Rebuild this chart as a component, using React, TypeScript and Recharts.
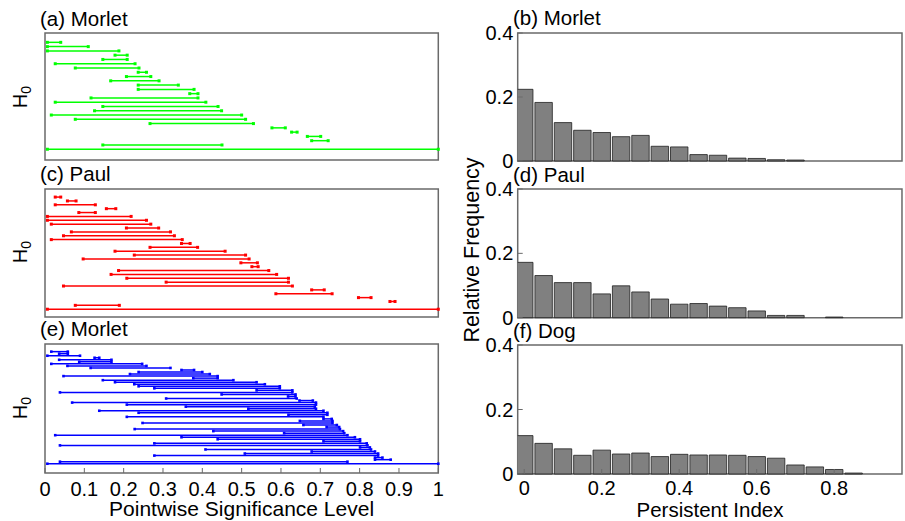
import React from 'react';
import { BarChart, Bar, XAxis, YAxis, ReferenceArea } from 'recharts';

const FONT = '"Liberation Sans", Arial, Helvetica, sans-serif';

// (a) Morlet barcode, H0 intervals [birth, death], top row first
const BIRTH_A = [0.006, 0.006, 0.006, 0.178, 0.147, 0.026, 0.077, 0.237, 0.207, 0.167, 0.237, 0.237, 0.368, 0.117, 0.026, 0.147, 0.126, 0.016, 0.077, 0.267, 0.577, 0.627, 0.667, 0.678, 0.147, 0.006];
const DEATH_A = [0.040, 0.110, 0.188, 0.209, 0.209, 0.229, 0.239, 0.258, 0.269, 0.290, 0.339, 0.379, 0.389, 0.389, 0.409, 0.440, 0.449, 0.500, 0.510, 0.530, 0.611, 0.641, 0.701, 0.720, 0.450, 1.0];

// (c) Paul barcode
const BIRTH_C = [0.026, 0.057, 0.026, 0.156, 0.086, 0.006, 0.006, 0.016, 0.207, 0.067, 0.047, 0.016, 0.347, 0.267, 0.178, 0.227, 0.097, 0.498, 0.526, 0.187, 0.168, 0.208, 0.308, 0.047, 0.678, 0.587, 0.797, 0.877, 0.077, 0.006];
const DEATH_C = [0.040, 0.079, 0.128, 0.180, 0.128, 0.219, 0.258, 0.269, 0.289, 0.319, 0.329, 0.349, 0.369, 0.388, 0.458, 0.510, 0.519, 0.540, 0.542, 0.569, 0.589, 0.619, 0.619, 0.629, 0.710, 0.730, 0.829, 0.890, 0.189, 1.0];

// (e) Morlet barcode
const BIRTH_E = [0.016, 0.036, 0.006, 0.126, 0.036, 0.087, 0.016, 0.057, 0.116, 0.347, 0.238, 0.216, 0.047, 0.377, 0.147, 0.178, 0.227, 0.238, 0.278, 0.538, 0.038, 0.449, 0.618, 0.308, 0.647, 0.069, 0.208, 0.358, 0.517, 0.138, 0.238, 0.619, 0.208, 0.708, 0.648, 0.248, 0.657, 0.716, 0.228, 0.428, 0.608, 0.026, 0.347, 0.439, 0.708, 0.278, 0.038, 0.801, 0.408, 0.678, 0.508, 0.278, 0.839, 0.839, 0.038, 0.006];
const DEATH_E = [0.058, 0.058, 0.089, 0.138, 0.169, 0.169, 0.247, 0.258, 0.319, 0.379, 0.400, 0.419, 0.439, 0.439, 0.479, 0.538, 0.559, 0.597, 0.597, 0.629, 0.629, 0.637, 0.637, 0.640, 0.681, 0.689, 0.689, 0.686, 0.689, 0.708, 0.718, 0.718, 0.708, 0.729, 0.731, 0.731, 0.742, 0.748, 0.750, 0.758, 0.761, 0.769, 0.788, 0.801, 0.801, 0.818, 0.820, 0.826, 0.829, 0.839, 0.847, 0.847, 0.858, 0.879, 0.769, 1.0];

// row axis limits of each barcode panel
const ROWS_A: [number, number] = [-1.1, 28.6];
const ROWS_C: [number, number] = [-1.2, 31.9];
const ROWS_E: [number, number] = [-2.8, 60.5];

const SIG_TICKS = [0, 0.1, 0.2, 0.3, 0.4, 0.5, 0.6, 0.7, 0.8, 0.9, 1];

// histograms of the persistent index (bin width 0.05)
const BIN_CENTERS = [0, 0.05, 0.1, 0.15, 0.2, 0.25, 0.3, 0.35, 0.4, 0.45, 0.5, 0.55, 0.6, 0.65, 0.7, 0.75, 0.8, 0.85];
const FREQ_B = [0.224, 0.183, 0.120, 0.096, 0.089, 0.076, 0.080, 0.046, 0.044, 0.020, 0.018, 0.009, 0.008, 0.004, 0.003, 0, 0, 0];
const FREQ_D = [0.172, 0.131, 0.109, 0.109, 0.074, 0.099, 0.080, 0.058, 0.042, 0.044, 0.036, 0.031, 0.021, 0.007, 0.007, 0, 0.002, 0];
const FREQ_F = [0.119, 0.095, 0.078, 0.058, 0.074, 0.062, 0.065, 0.054, 0.061, 0.059, 0.059, 0.058, 0.054, 0.049, 0.028, 0.022, 0.014, 0.003];

const HIST_X: [number, number] = [-0.0168, 0.975];
const PI_TICKS = [0, 0.2, 0.4, 0.6, 0.8];
const FREQ_TICKS = [0, 0.2, 0.4];

const AXIS_COLOR = '#6a6a6a';
const PAD = 14; // room above / below the plot for tick labels
const tickStyle = { fontSize: 20, fill: '#000', fontFamily: FONT };

type BarcodeProps = {
  birth: number[];
  death: number[];
  color: string;
  rows: [number, number];
  top: number;
  plotH: number;
  labels?: boolean;
  dot: number;
  lw: number;
};

const Barcode = ({ birth, death, color, rows, top, plotH, labels, dot, lw }: BarcodeProps) => {
  const data = birth.map((b, i) => ({ row: i + 1, range: [b, death[i]] }));
  const axisH = labels ? 30 : 0;

  // a bar of the barcode: a line with a small marker at each end
  const shape = (p: any) => {
    const { x, y, width, height } = p;
    if (x == null || width == null) return <g />;
    const cy = y + height / 2;
    return (
      <g>
        <line x1={x} x2={x + width} y1={cy} y2={cy} stroke={color} strokeWidth={lw} />
        <rect x={x - dot / 2} y={cy - dot / 2} width={dot} height={dot} fill={color} />
        <rect x={x + width - dot / 2} y={cy - dot / 2} width={dot} height={dot} fill={color} />
      </g>
    );
  };

  return (
    <div style={{ position: 'absolute', left: 0, top: top - PAD }}>
      <BarChart
        layout="vertical"
        width={460}
        height={plotH + 2 * PAD + axisH}
        data={data}
        margin={{ top: PAD, right: 21.7, bottom: PAD, left: 45 }}
        barSize={3}
      >
        <XAxis
          xAxisId="b"
          type="number"
          domain={[0, 1]}
          ticks={SIG_TICKS}
          interval={0}
          height={axisH}
          axisLine={false}
          tickSize={-5}
          tickMargin={13.5}
          tickLine={{ stroke: AXIS_COLOR }}
          tick={labels ? tickStyle : false}
        />
        <XAxis
          xAxisId="t"
          orientation="top"
          type="number"
          domain={[0, 1]}
          ticks={SIG_TICKS}
          interval={0}
          height={0}
          axisLine={false}
          tickSize={-5}
          tickLine={{ stroke: AXIS_COLOR }}
          tick={false}
        />
        <YAxis yAxisId="r" type="number" dataKey="row" domain={rows} hide />
        <Bar xAxisId="b" yAxisId="r" dataKey="range" shape={shape} isAnimationActive={false} />
        <ReferenceArea
          xAxisId="b"
          yAxisId="r"
          x1={0}
          x2={1}
          y1={rows[0]}
          y2={rows[1]}
          fill="none"
          stroke={AXIS_COLOR}
          strokeWidth={1.5}
          ifOverflow="visible"
        />
      </BarChart>
    </div>
  );
};

type HistProps = { freq: number[]; top: number; plotH: number; labels?: boolean };

const Histogram = ({ freq, top, plotH, labels }: HistProps) => {
  const data = BIN_CENTERS.map((bin, i) => ({ bin, freq: freq[i] }));
  const axisH = labels ? 30 : 0;
  const yAxisW = 57.7;
  const plotW = 445 - yAxisW - 3;
  const barW = (0.05 * plotW) / (HIST_X[1] - HIST_X[0]);

  return (
    <div style={{ position: 'absolute', left: 460, top: top - PAD }}>
      <BarChart
        width={445}
        height={plotH + 2 * PAD + axisH}
        data={data}
        margin={{ top: PAD, right: 3, bottom: PAD, left: 0 }}
        barSize={barW}
        barGap={0}
      >
        <XAxis
          xAxisId="b"
          type="number"
          dataKey="bin"
          domain={HIST_X}
          allowDataOverflow
          ticks={PI_TICKS}
          interval={0}
          height={axisH}
          axisLine={false}
          tickSize={-5}
          tickMargin={12}
          tickLine={{ stroke: AXIS_COLOR }}
          tick={labels ? tickStyle : false}
        />
        <XAxis
          xAxisId="t"
          orientation="top"
          type="number"
          domain={HIST_X}
          allowDataOverflow
          ticks={PI_TICKS}
          interval={0}
          height={0}
          axisLine={false}
          tickSize={-5}
          tickLine={{ stroke: AXIS_COLOR }}
          tick={false}
        />
        <YAxis
          yAxisId="l"
          type="number"
          width={yAxisW}
          domain={[0, 0.4]}
          ticks={FREQ_TICKS}
          interval={0}
          axisLine={false}
          tickSize={-5}
          tickMargin={9.4}
          tickLine={{ stroke: AXIS_COLOR }}
          tick={tickStyle}
        />
        <YAxis
          yAxisId="r"
          orientation="right"
          type="number"
          width={0}
          domain={[0, 0.4]}
          ticks={FREQ_TICKS}
          interval={0}
          axisLine={false}
          tickSize={-5}
          tickLine={{ stroke: AXIS_COLOR }}
          tick={false}
        />
        <Bar
          xAxisId="b"
          yAxisId="l"
          dataKey="freq"
          fill="#808080"
          stroke="#1f1f1f"
          strokeWidth={0.8}
          isAnimationActive={false}
        />
        <ReferenceArea
          xAxisId="b"
          yAxisId="l"
          x1={HIST_X[0]}
          x2={HIST_X[1]}
          y1={0}
          y2={0.4}
          fill="none"
          stroke={AXIS_COLOR}
          strokeWidth={1.5}
          ifOverflow="visible"
        />
      </BarChart>
    </div>
  );
};

const H0 = ({ y }: { y: number }) => (
  <text transform={`translate(27,${y}) rotate(-90)`} textAnchor="middle" fontSize={20}>
    H<tspan fontSize={14} dy={4}>0</tspan>
  </text>
);

export default function App() {
  return (
    <div style={{ position: 'absolute', left: 0, top: 0, width: 905, height: 521, background: '#fff', fontFamily: FONT }}>
      <Barcode birth={BIRTH_A} death={DEATH_A} color="#00ff00" rows={ROWS_A} top={33.3} plotH={127} dot={3} lw={1.5} />
      <Barcode birth={BIRTH_C} death={DEATH_C} color="#ff0000" rows={ROWS_C} top={188.5} plotH={128} dot={3} lw={1.5} />
      <Barcode birth={BIRTH_E} death={DEATH_E} color="#0000ff" rows={ROWS_E} top={343.5} plotH={129} dot={2.6} lw={1.5} labels />

      <Histogram freq={FREQ_B} top={32.7} plotH={128} />
      <Histogram freq={FREQ_D} top={189} plotH={128.7} />
      <Histogram freq={FREQ_F} top={345} plotH={129} labels />

      <svg
        width={905}
        height={521}
        style={{ position: 'absolute', left: 0, top: 0, pointerEvents: 'none' }}
        fontFamily={FONT}
        fill="#000"
      >
        <text x={40} y={26} fontSize={20.5}>(a) Morlet</text>
        <text x={40} y={181} fontSize={20.5}>(c) Paul</text>
        <text x={40} y={336} fontSize={20.5}>(e) Morlet</text>
        <text x={513} y={25} fontSize={20.5}>(b) Morlet</text>
        <text x={513} y={181.5} fontSize={20.5}>(d) Paul</text>
        <text x={513} y={337.5} fontSize={20.5}>(f) Dog</text>

        <H0 y={97} />
        <H0 y={252} />
        <H0 y={408} />

        <text x={241.6} y={516} fontSize={21} textAnchor="middle">Pointwise Significance Level</text>
        <text x={710} y={516.5} fontSize={20.5} textAnchor="middle">Persistent Index</text>
        <text transform="translate(479,250) rotate(-90)" fontSize={21.5} textAnchor="middle">Relative Frequency</text>
      </svg>
    </div>
  );
}
